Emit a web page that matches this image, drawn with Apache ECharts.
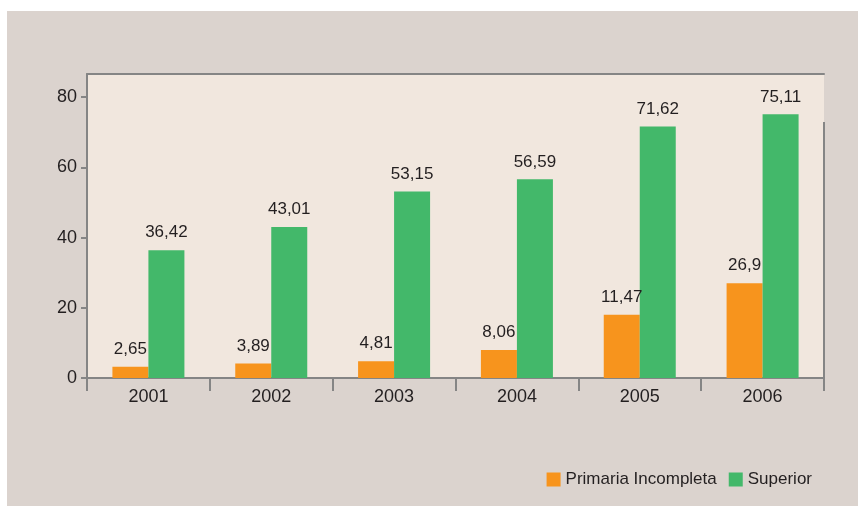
<!DOCTYPE html>
<html>
<head>
<meta charset="utf-8">
<script src="https://cdn.jsdelivr.net/npm/echarts@6/dist/echarts.min.js"></script>
<style>
* { margin: 0; padding: 0; }
body { background: #fff; width: 858px; height: 506px; overflow: hidden; }
#chart { position: absolute; left: 7px; top: 11px; width: 851px; height: 495px; background: #dbd3ce; }
</style>
</head>
<body>
<div id="chart"></div>
<script>
// years on the x axis
var years = ['2001', '2002', '2003', '2004', '2005', '2006'];
// bar heights as drawn in the picture
var primaria = [3.2, 4.1, 4.8, 8.0, 18.0, 27.0];
var superior = [36.42, 43.01, 53.15, 56.59, 71.62, 75.11];
// printed labels over the bars
var primariaLabels = ['2,65', '3,89', '4,81', '8,06', '11,47', '26,9'];
var superiorLabels = ['36,42', '43,01', '53,15', '56,59', '71,62', '75,11'];

var font = "'Liberation Sans Narrow', 'Arial Narrow', 'Liberation Sans', sans-serif";
var axisGray = '#858585';
var textColor = '#231f20';

var myChart = echarts.init(document.getElementById('chart'));
myChart.setOption({
  animation: false,
  textStyle: { fontFamily: font },
  grid: {
    left: 80,
    right: 34,
    top: 63,
    bottom: 128,
    show: true,
    backgroundColor: '#f1e7de',
    borderWidth: 0
  },
  legend: {
    right: 41,
    top: 455,
    itemWidth: 14,
    itemHeight: 14,
    itemGap: 12,
    icon: 'rect',
    textStyle: { fontSize: 17, color: textColor, fontFamily: font },
    data: ['Primaria Incompleta', 'Superior']
  },
  xAxis: [{
    type: 'category',
    data: years,
    axisLine: { lineStyle: { color: axisGray, width: 2 } },
    axisTick: { show: true, length: 13, lineStyle: { color: axisGray, width: 2 } },
    axisLabel: { fontSize: 18, color: textColor, margin: 10, fontFamily: font }
  }, {
    type: 'category',
    data: years,
    position: 'top',
    axisLine: { lineStyle: { color: axisGray, width: 2 } },
    axisTick: { show: false },
    axisLabel: { show: false }
  }],
  yAxis: {
    type: 'value',
    min: 0,
    max: 86.6,
    interval: 20,
    axisLine: { show: true, lineStyle: { color: axisGray, width: 2 } },
    axisTick: { show: true, length: 6, lineStyle: { color: axisGray, width: 2 } },
    axisLabel: {
      fontSize: 18, color: textColor, margin: 10, fontFamily: font,
      showMaxLabel: false
    },
    splitLine: { show: false }
  },
  graphic: [{
    type: 'line',
    shape: { x1: 817, y1: 111, x2: 817, y2: 367 },
    style: { stroke: axisGray, lineWidth: 2 }
  }],
  series: [{
    name: 'Primaria Incompleta',
    type: 'bar',
    data: primaria,
    barWidth: 36,
    barGap: '0%',
    itemStyle: { color: '#f7941d' },
    label: {
      show: true,
      position: 'top',
      distance: 9,
      fontSize: 17,
      color: textColor,
      fontFamily: font,
      formatter: function (p) { return primariaLabels[p.dataIndex]; }
    }
  }, {
    name: 'Superior',
    type: 'bar',
    data: superior,
    barWidth: 36,
    itemStyle: { color: '#43b86a' },
    label: {
      show: true,
      position: 'top',
      distance: 9,
      fontSize: 17,
      color: textColor,
      fontFamily: font,
      formatter: function (p) { return superiorLabels[p.dataIndex]; }
    }
  }]
});
</script>
</body>
</html>
